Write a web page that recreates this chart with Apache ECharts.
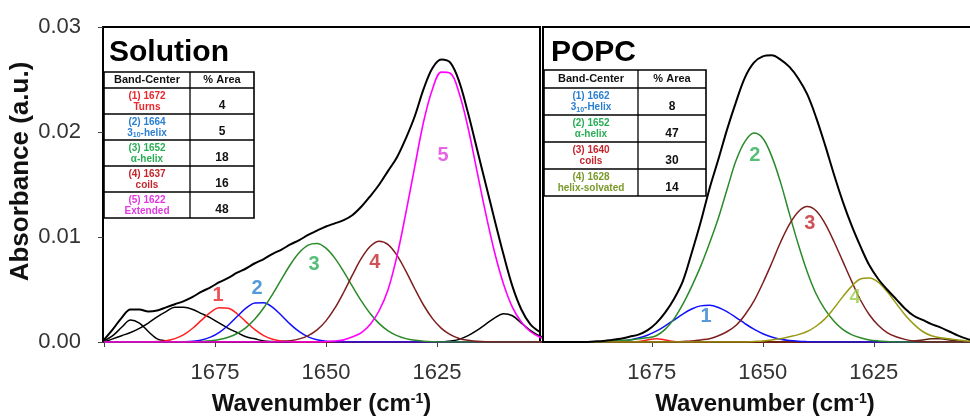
<!DOCTYPE html>
<html><head><meta charset="utf-8">
<script src="https://cdn.jsdelivr.net/npm/echarts@6/dist/echarts.min.js"></script>
<style>html,body{margin:0;padding:0;background:#fff}#c{width:970px;height:417px}</style>
</head><body><div id="c"></div>
<script>
// wavenumber grid (cm-1)
const WN = [1700,1698,1696,1694,1692,1690,1688,1686,1684,1682,1680,1678,1676,1674,1672,1670,1668,1666,1664,1662,1660,1658,1656,1654,1652,1650,1648,1646,1644,1642,1640,1638,1636,1634,1632,1630,1628,1626,1624,1622,1620,1618,1616,1614,1612,1610,1608,1606,1604,1602,1600];

// ---- Solution panel ----
const solTotal = [0.0002,0.0012,0.0023,0.0031,0.0031,0.0029,0.0030,0.0033,0.0036,0.0039,0.0043,0.0048,0.0052,0.0057,0.0061,0.0066,0.0070,0.0075,0.0079,0.0084,0.0088,0.0093,0.0097,0.0102,0.0106,0.0110,0.0113,0.0116,0.0121,0.0129,0.0139,0.0150,0.0163,0.0176,0.0194,0.0215,0.0241,0.0261,0.0269,0.0266,0.0248,0.0218,0.0184,0.0150,0.0116,0.0083,0.0053,0.0031,0.0017,0.0010,0.0006];
const solBandA = [0.0001,0.0006,0.0014,0.0021,0.0018,0.0010,0.0003,0.0001,0,0,0,0,0,0,0,0,0,0,0,0,0,0,0,0,0,0,0,0,0,0,0,0,0,0,0,0,0,0,0,0,0,0,0,0,0,0,0,0,0,0,0];
const solBandB = [0,0.0003,0.0006,0.0009,0.0013,0.0018,0.0024,0.0029,0.0033,0.0033,0.0031,0.0027,0.0023,0.0018,0.0013,0.0009,0.0005,0.0003,0.0001,0.00004,0,0,0,0,0,0,0,0,0,0,0,0,0,0,0,0,0,0,0,0,0,0,0,0,0,0,0,0,0,0,0];
const solBandC = [0,0,0,0,0,0,0,0,0,0,0,0,0,0,0,0,0,0,0,0,0,0,0,0,0,0,0,0,0,0,0,0,0,0,0,0,0,0,0,0.0001,0.00025,0.0006,0.0011,0.0017,0.0023,0.0027,0.0025,0.0018,0.0011,0.0006,0.0003];
const solB1 = [0,0,0,0,0,0.00001,0.00004,0.00012,0.00032,0.0007,0.00131,0.00208,0.00282,0.00326,0.00321,0.00269,0.00192,0.00117,0.00061,0.00027,0.0001,0.00003,0,0,0,0,0,0,0,0,0,0,0,0,0,0,0,0,0,0,0,0,0,0,0,0,0,0,0,0,0];
const solB2 = [0,0,0,0,0,0,0,0,0.00001,0.00003,0.00008,0.0002,0.00046,0.00092,0.0016,0.00243,0.00322,0.00372,0.00375,0.00329,0.00252,0.00168,0.00098,0.00049,0.00022,0.00008,0.00003,0,0,0,0,0,0,0,0,0,0,0,0,0,0,0,0,0,0,0,0,0,0,0,0];
const solB3 = [0,0,0,0,0,0,0,0,0,0,0.00002,0.00005,0.00011,0.00023,0.00045,0.00081,0.00137,0.00218,0.00326,0.00456,0.00599,0.00738,0.00852,0.00923,0.00938,0.00894,0.00799,0.0067,0.00527,0.00389,0.00269,0.00175,0.00106,0.00061,0.00032,0.00016,0.00008,0.00003,0,0,0,0,0,0,0,0,0,0,0,0,0];
const solB4 = [0,0,0,0,0,0,0,0,0,0,0,0,0,0,0,0,0,0,0,0,0.00005,0.00013,0.0003,0.00061,0.00115,0.00201,0.00322,0.00474,0.00641,0.00798,0.00912,0.0096,0.00928,0.00825,0.00675,0.00507,0.0035,0.00223,0.0013,0.0007,0.00034,0.00016,0.00007,0.00002,0,0,0,0,0,0,0];
const solB5 = [0,0,0,0,0,0,0,0,0,0,0,0,0,0,0,0,0,0,0,0,0,0,0,0,0,0.00004,0.0001,0.0002,0.0005,0.0009,0.0017,0.003,0.005,0.0082,0.0123,0.0167,0.021,0.0241,0.0257,0.0256,0.0237,0.0204,0.0163,0.0122,0.0085,0.0055,0.0033,0.0019,0.001,0.0005,0.0002];

// ---- POPC panel ----
const popTotal = [0,0,0,0,0,0,0.00005,0.0001,0.0002,0.0003,0.0005,0.0007,0.0011,0.0018,0.0028,0.0041,0.0058,0.0085,0.0114,0.0146,0.0174,0.0203,0.0229,0.0252,0.0266,0.0272,0.0273,0.0269,0.0262,0.0251,0.0236,0.0214,0.0188,0.0160,0.0134,0.0111,0.0091,0.0073,0.0060,0.0050,0.0041,0.0032,0.0025,0.0021,0.0017,0.0014,0.0010,0.0006,0.0003,0.0001,0];
const popB1 = [0,0,0,0,0,0,0,0.00002,0.00005,0.0001,0.0002,0.00038,0.00065,0.00103,0.00153,0.00209,0.00266,0.00314,0.00344,0.00349,0.00329,0.00287,0.00233,0.00175,0.00122,0.00079,0.00047,0.00026,0.00014,0.00007,0.00003,0,0,0,0,0,0,0,0,0,0,0,0,0,0,0,0,0,0,0,0];
const popB2 = [0,0,0,0,0,0,0,0.00003,0.00008,0.00015,0.0002,0.0003,0.0004,0.0006,0.0012,0.0022,0.0036,0.0053,0.0072,0.0094,0.0118,0.0146,0.0173,0.0191,0.0199,0.0194,0.0177,0.0152,0.0122,0.0093,0.0067,0.0046,0.0031,0.002,0.0012,0.0007,0.0004,0.0002,0.0001,0.00004,0,0,0,0,0,0,0,0,0,0,0];
const popB3 = [0,0,0,0,0,0,0,0,0,0,0,0,0,0,0,0,0.00005,0.0001,0.0002,0.0003,0.0006,0.001,0.0016,0.0026,0.0039,0.0056,0.0075,0.0095,0.0112,0.0124,0.0129,0.0125,0.0113,0.0096,0.0077,0.0058,0.004,0.0026,0.0016,0.0009,0.0005,0.00025,0.0001,0.00004,0,0,0,0,0,0,0];
const popB4 = [0,0,0,0,0,0,0,0,0,0,0,0,0,0,0,0,0,0,0,0,0,0,0,0,0.00005,0.0001,0.0002,0.0003,0.0005,0.0007,0.001,0.0015,0.0022,0.0032,0.0043,0.0053,0.006,0.0061,0.0057,0.0048,0.0037,0.0026,0.0017,0.001,0.0006,0.0004,0.0003,0.0002,0.0001,0.00005,0];
const popRedTiny = [0,0,0,0,0,0,0,0,0,0,0,0.00005,0.0002,0.0003,0.0002,0.00005,0,0,0,0,0,0,0,0,0,0,0,0,0,0,0,0,0,0,0,0,0,0,0,0,0,0,0,0,0,0,0,0,0,0,0];
const popDarkTiny = [0,0,0,0,0,0,0,0,0,0,0,0,0,0,0,0,0,0,0,0,0,0,0,0,0,0,0,0,0,0,0,0,0,0,0,0,0,0,0,0,0,0,0.0001,0.0002,0.0003,0.0003,0.0002,0.0001,0,0,0];

// axis ticks
const xTicks = [1675, 1650, 1625];

// band number labels
const solLabTxt = ['1','2','3','4','5'];
const solLabX = [1674.3, 1665.5, 1652.7, 1639.0, 1623.6];
const solLabY = [0.0044, 0.0051, 0.0074, 0.0076, 0.0178];
const popLabTxt = ['1','2','3','4'];
const popLabX = [1662.8, 1651.8, 1639.4, 1629.2];
const popLabY = [0.0024, 0.0178, 0.0113, 0.0042];

// tables
const solBands = ['(1) 1672','(2) 1664','(3) 1652','(4) 1637','(5) 1622'];
const solNames = ['Turns','3₁₀-helix','α-helix','coils','Extended'];
const solArea = ['4','5','18','16','48'];
const popBands = ['(1) 1662','(2) 1652','(3) 1640','(4) 1628'];
const popNames = ['3₁₀-Helix','α-helix','coils','helix-solvated'];
const popArea = ['8','47','30','14'];

const FONT = "'Liberation Sans', Arial, Helvetica, sans-serif";
const C = {red:'#ff1f1f', blue:'#1010ff', green:'#2a8a2a', brown:'#7e1e1e', mag:'#ff00ff', olive:'#9a9a12', black:'#000'};
const TC = {red:'#e8262c', blue:'#2a7fd0', green:'#2aae55', brown:'#c4262c', mag:'#e23ae0', olive:'#7a9a2a', lgreen:'#9ccd4a'};

function line(arr, color, w, xi, z) {
  return {type:'line', xAxisIndex:xi, yAxisIndex:xi, data: WN.map((x,i)=>[x, arr[i]]),
    smooth:0.35, showSymbol:false, symbol:'none', clip:true, silent:true, z:z||2,
    lineStyle:{color:color, width:w}};
}
function labels(txt, xs, ys, cols, xi) {
  return {type:'scatter', xAxisIndex:xi, yAxisIndex:xi, symbolSize:1, silent:true, z:5,
    itemStyle:{color:'rgba(0,0,0,0)'},
    data: txt.map((t,i)=>({value:[xs[i], ys[i]], label:{show:true, position:'inside', formatter:t,
      color:cols[i], fontSize:20, fontWeight:'bold', fontFamily:FONT}}))};
}
function richName(n, color) {
  if (n.indexOf('₁₀') >= 0) {
    const parts = n.split('₁₀');
    return {text:'{c|'+parts[0]+'}{s|10}{c|'+parts[1]+'}',
      rich:{c:{fill:color, fontSize:10, fontWeight:'bold', fontFamily:FONT},
            s:{fill:color, fontSize:7, fontWeight:'bold', fontFamily:FONT, verticalAlign:'bottom', padding:[4,0,0,0]}}};
  }
  return {text:n, rich:{}};
}
function table(x0, x1, x2, ys, bands, names, areas, cols) {
  const ch = [];
  const yTop = ys[0], yBot = ys[ys.length-1];
  ch.push({type:'rect', shape:{x:x0, y:yTop, width:x2-x0, height:yBot-yTop}, style:{fill:'#fff', stroke:'#000', lineWidth:1.6}});
  ch.push({type:'line', shape:{x1:x1, y1:yTop, x2:x1, y2:yBot}, style:{stroke:'#000', lineWidth:1.3}});
  for (let k=1; k<ys.length-1; k++) ch.push({type:'line', shape:{x1:x0, y1:ys[k], x2:x2, y2:ys[k]}, style:{stroke:'#000', lineWidth:1.3}});
  const hc = (ys[0]+ys[1])/2;
  ch.push({type:'text', style:{text:'Band-Center', x:(x0+x1)/2, y:hc, align:'center', verticalAlign:'middle', fill:'#111', font:'bold 11px '+FONT}});
  ch.push({type:'text', style:{text:'% Area', x:(x1+x2)/2, y:hc, align:'center', verticalAlign:'middle', fill:'#111', font:'bold 11px '+FONT}});
  for (let i=0; i<bands.length; i++) {
    const t = ys[i+1], b = ys[i+2], h = b - t;
    ch.push({type:'text', style:{text:bands[i], x:(x0+x1)/2, y:t+h*0.3, align:'center', verticalAlign:'middle', fill:cols[i], font:'bold 10px '+FONT}});
    const rn = richName(names[i], cols[i]);
    ch.push({type:'text', style:{text:rn.text, rich:rn.rich, x:(x0+x1)/2, y:t+h*0.73, align:'center', verticalAlign:'middle', fill:cols[i], font:'bold 10px '+FONT}});
    ch.push({type:'text', style:{text:areas[i], x:(x1+x2)/2, y:t+h*0.68, align:'center', verticalAlign:'middle', fill:'#111', font:'bold 12px '+FONT}});
  }
  return {type:'group', z:100, children:ch};
}

const axisNameRich = {
  b:{fontSize:24, fontWeight:'bold', color:'#111', fontFamily:FONT},
  s:{fontSize:14, fontWeight:'bold', color:'#111', fontFamily:FONT, verticalAlign:'top', padding:[0,0,10,0]}
};
function xAxis(gi, min, max, ticks) {
  return {type:'value', gridIndex:gi, min:min, max:max, inverse:true,
    name:'{b|Wavenumber (cm}{s|-1}{b|)}', nameLocation:'middle', nameGap:50,
    nameTextStyle:{rich:axisNameRich},
    axisLine:{show:true, onZero:false, lineStyle:{color:'#000', width:2}},
    axisTick:{show:true, inside:false, length:5, customValues:ticks, lineStyle:{color:'#444', width:1}},
    axisLabel:{show:true, customValues:xTicks, fontSize:22, color:'#333', margin:20, fontFamily:FONT,
      formatter:v=>String(Math.round(v))},
    splitLine:{show:false}};
}

const option = {
  animation:false,
  backgroundColor:'#fff',
  grid:[
    {left:103, top:27, width:437, height:315, show:true, borderColor:'#000', borderWidth:2, backgroundColor:'transparent', containLabel:false, outerBoundsMode:'none'},
    {left:543, top:27, width:444, height:315, show:true, borderColor:'#000', borderWidth:2, backgroundColor:'transparent', containLabel:false, outerBoundsMode:'none'}
  ],
  xAxis:[ xAxis(0, 1601.8, 1700.2, [1700,1675,1650,1625]), xAxis(1, 1599.5, 1699.5, xTicks) ],
  yAxis:[
    {type:'value', gridIndex:0, min:0, max:0.03, interval:0.01,
      name:'Absorbance (a.u.)', nameLocation:'middle', nameGap:69,
      nameTextStyle:{fontSize:26, fontWeight:'bold', color:'#111', fontFamily:FONT, padding:[0,0,0,26]},
      axisLine:{show:true, lineStyle:{color:'#000', width:2}},
      axisTick:{show:true, length:5, lineStyle:{color:'#444'}},
      axisLabel:{fontSize:22, color:'#333', margin:22, fontFamily:FONT, formatter:v=>v.toFixed(2)},
      splitLine:{show:false}},
    {type:'value', gridIndex:1, min:0, max:0.03, interval:0.01,
      axisLine:{show:true, lineStyle:{color:'#000', width:2}},
      axisTick:{show:false}, axisLabel:{show:false}, splitLine:{show:false}}
  ],
  series:[
    line(solBandA, C.black, 1.5, 0), line(solBandB, C.black, 1.5, 0), line(solBandC, C.black, 1.5, 0),
    line(solB1, C.red, 1.5, 0), line(solB2, C.blue, 1.5, 0), line(solB3, C.green, 1.5, 0),
    line(solB4, C.brown, 1.5, 0), line(solB5, C.mag, 1.6, 0), line(solTotal, C.black, 2, 0, 3),
    labels(solLabTxt, solLabX, solLabY, [TC.red, TC.blue, TC.green, TC.brown, TC.mag], 0),
    line(popRedTiny, C.red, 1.5, 1), line(popDarkTiny, '#5a2a10', 1.5, 1),
    line(popB1, C.blue, 1.5, 1), line(popB2, C.green, 1.5, 1), line(popB3, C.brown, 1.5, 1),
    line(popB4, C.olive, 1.5, 1), line(popTotal, C.black, 2, 1, 3),
    labels(popLabTxt, popLabX, popLabY, [TC.blue, TC.green, TC.brown, TC.lgreen], 1)
  ],
  graphic:[
    {type:'text', z:100, style:{text:'Solution', x:109, y:53, verticalAlign:'middle', fill:'#000', font:'bold 30px '+FONT}},
    {type:'text', z:100, style:{text:'POPC', x:551, y:53, verticalAlign:'middle', fill:'#000', font:'bold 30px '+FONT}},
    table(104, 190, 254, [72,88,114,140,166,192,218], solBands, solNames, solArea, [TC.red, TC.blue, TC.green, TC.brown, TC.mag]),
    table(544, 638, 706, [70,88,115,142,169,196], popBands, popNames, popArea, [TC.blue, TC.green, TC.brown, TC.olive])
  ]
};
const chart = echarts.init(document.getElementById('c'), null, {renderer:'canvas'});
chart.setOption(option);
</script></body></html>
